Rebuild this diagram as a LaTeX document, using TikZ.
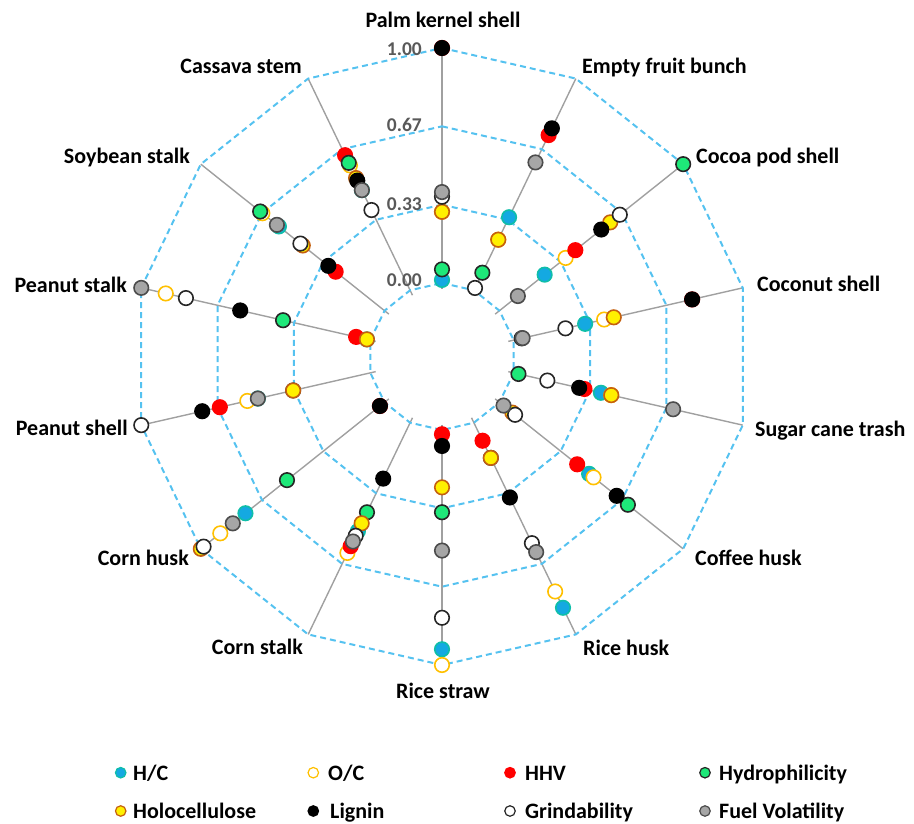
\documentclass[tikz,border=0pt]{standalone}
\usepackage{fontspec}
\setmainfont{Carlito}
\usetikzlibrary{positioning}
\definecolor{ringblue}{HTML}{55C2F0}
\definecolor{spoke}{HTML}{A0A0A0}
\definecolor{hcblue}{HTML}{14A9E1}
\definecolor{ocorange}{HTML}{FFC000}
\definecolor{hhvred}{HTML}{FF0000}
\definecolor{hygreen}{HTML}{1EE879}
\definecolor{hoyellow}{HTML}{FFF000}
\definecolor{hobrown}{HTML}{C5600F}
\definecolor{fvgray}{HTML}{A6A6A6}
\definecolor{ticktext}{HTML}{595959}
\tikzset{
  ring/.style={draw=ringblue, dash pattern=on 6pt off 4pt, line width=2pt},
  spokeline/.style={draw=spoke, line width=1.4pt},
  dot/.style={circle, inner sep=0pt, minimum size=14.5pt, line width=1.6pt},
  hc/.style={dot, fill=hcblue, draw=hcblue!75!green},
  oc/.style={dot, fill=white, draw=ocorange},
  hhv/.style={dot, fill=hhvred, draw=hhvred},
  hy/.style={dot, fill=hygreen, draw=black!85},
  ho/.style={dot, fill=hoyellow, draw=hobrown},
  lig/.style={dot, fill=black, draw=black},
  gr/.style={dot, fill=white, draw=black!85},
  fv/.style={dot, fill=fvgray, draw=black!70},
  legdot/.style={minimum size=10.5pt, line width=1.2pt},
  cat/.style={font=\fontsize{22}{26}\selectfont\bfseries, inner sep=0pt},
  tick/.style={font=\fontsize{19.5}{22}\selectfont\bfseries, text=ticktext, inner sep=0pt},
}
\def\rz{73.5}
\def\rs{235}
\newcommand{\plotseries}[2]{%
  \foreach \v [count=\k from 0] in {#2}
    \node[#1] (#1-\k) at ({-90+\k*360/14}:{\rz+\rs*\v}) {};
}

\begin{document}
\begin{tikzpicture}[x=1pt,y=-1pt]
  \useasboundingbox (0,0) rectangle (914,823);
  \begin{scope}[shift={(442,356.5)}]
    % spokes
    \foreach \k in {0,...,13}{
      \coordinate (s\k) at ({-90+\k*360/14}:68);
      \coordinate (e\k) at ({-90+\k*360/14}:{\rz+\rs});
      \draw[spokeline] (s\k) -- (e\k);
    }
    % dashed rings
    \foreach \v in {0,0.3333,0.6667,1}{
      \draw[ring] (-90:{\rz+\rs*\v})
        \foreach \i in {1,...,13}{ -- ({-90+\i*360/14}:{\rz+\rs*\v}) } -- cycle;
    }
    % series
    \plotseries{hc}{.013,.345,.246,.312,.381,.488,.874,.933,.512,.757,.491,.015,.575,.473}
    \plotseries{oc}{.303,.239,.36,.395,.426,.512,.797,1.0,.615,.894,.537,.893,.665,.59}
    \plotseries{hhv}{1.0,.733,.413,.779,.309,.423,.085,.018,.583,.025,.657,.062,.266,.638}
    \plotseries{hy}{.058,.083,1.0,.035,.021,.699,.166,.350,.423,.531,.337,.381,.677,.602}
    \plotseries{ho}{.303,.239,.603,.437,.426,.07,.166,.244,.475,1.0,.337,.015,.445,.53}
    \plotseries{lig}{1.0,.765,.554,.779,.286,.638,.353,.068,.264,.025,.734,.568,.306,.518}
    \plotseries{gr}{.367,.011,.655,.226,.147,.085,.569,.799,.534,.985,1.0,.805,.458,.379}
    \plotseries{fv}{.387,.604,.10,.039,.696,.022,.611,.513,.561,.826,.491,1.0,.586,.473}
  \end{scope}

  % scale labels
  \node[tick, anchor=base east] (t100) at (422,55) {1.00};
  \node[tick, anchor=base east] (t067) at (422,131.7) {0.67};
  \node[tick, anchor=base east] (t033) at (422,210) {0.33};
  \node[tick, anchor=base east] (t000) at (422,286.7) {0.00};

  % category labels
  \node[cat, anchor=base] (pks) at (443,27) {Palm kernel shell};
  \node[cat, anchor=base west] (efb) at (582,73) {Empty fruit bunch};
  \node[cat, anchor=base west] (cps) at (696,163) {Cocoa pod shell};
  \node[cat, anchor=base west] (cns) at (757,291) {Coconut shell};
  \node[cat, anchor=base west] (sct) at (755,436) {Sugar cane trash};
  \node[cat, anchor=base west] (cfh) at (695,565) {Coffee husk};
  \node[cat, anchor=base west] (rhk) at (583,655) {Rice husk};
  \node[cat, anchor=base] (rst) at (443,698) {Rice straw};
  \node[cat, anchor=base east] (cst) at (303,654) {Corn stalk};
  \node[cat, anchor=base east] (chk) at (189,565) {Corn husk};
  \node[cat, anchor=base east] (psh) at (128,435) {Peanut shell};
  \node[cat, anchor=base east] (pst) at (127,292) {Peanut stalk};
  \node[cat, anchor=base east] (sbs) at (190,163) {Soybean stalk};
  \node[cat, anchor=base east] (cas) at (302,73) {Cassava stem};

  % legend
  \node[hc, legdot] (l-hc) at (120.7,772.7) {};
  \node[oc, legdot] (l-oc) at (313.3,772.7) {};
  \node[hhv, legdot] (l-hhv) at (510,772.7) {};
  \node[hy, legdot] (l-hy) at (705,772.7) {};
  \node[ho, legdot] (l-ho) at (120.7,811) {};
  \node[lig, legdot] (l-lig) at (313.3,811) {};
  \node[gr, legdot] (l-gr) at (510,811) {};
  \node[fv, legdot] (l-fv) at (705,811) {};
  \node[cat, anchor=base west] (n-hc) at (133,780) {H/C};
  \node[cat, anchor=base west] (n-oc) at (328,780) {O/C};
  \node[cat, anchor=base west] (n-hhv) at (525,780) {HHV};
  \node[cat, anchor=base west] (n-hy) at (719,780) {Hydrophilicity};
  \node[cat, anchor=base west] (n-ho) at (133,818) {Holocellulose};
  \node[cat, anchor=base west] (n-lig) at (330,818) {Lignin};
  \node[cat, anchor=base west] (n-gr) at (525,818) {Grindability};
  \node[cat, anchor=base west] (n-fv) at (719,818) {Fuel Volatility};
\end{tikzpicture}
\end{document}
